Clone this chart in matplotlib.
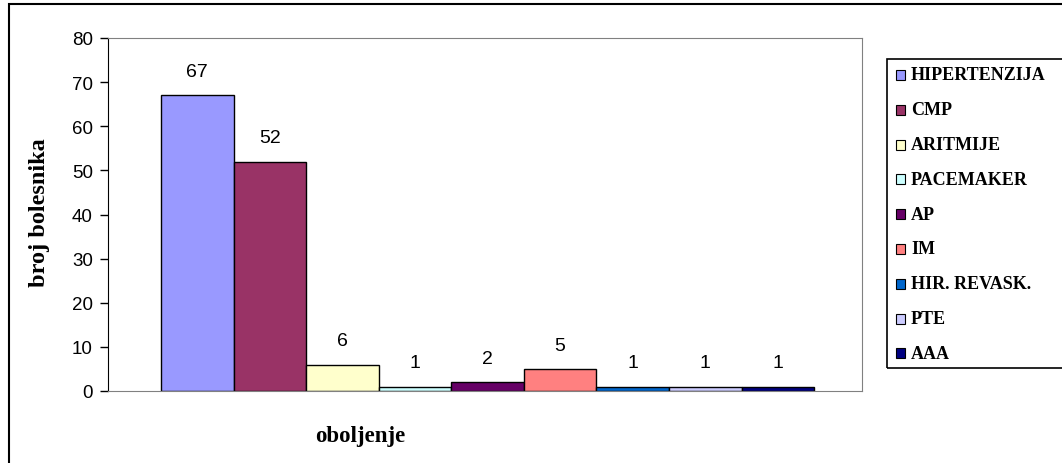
import matplotlib.pyplot as plt
from matplotlib.patches import Rectangle

# categories and patient counts
categories = ['HIPERTENZIJA', 'CMP', 'ARITMIJE', 'PACEMAKER', 'AP', 'IM',
              'HIR. REVASK.', 'PTE', 'AAA']
counts = [67, 52, 6, 1, 2, 5, 1, 1, 1]
colors = ['#9999FF', '#993366', '#FFFFCC', '#CCFFFF', '#660066', '#FF8080',
          '#0066CC', '#CCCCFF', '#000080']
yticks = [0, 10, 20, 30, 40, 50, 60, 70, 80]

W, H = 1062, 464
fig = plt.figure(figsize=(W / 100, H / 100), dpi=100)


def px(x, y):
    # pixel position (top-left origin) -> figure fraction
    return x / W, 1 - y / H


ax = fig.add_axes([108 / W, 1 - 392 / H, (862 - 108) / W, (392 - 39) / H])

pos = list(range(len(counts)))
ax.bar(pos, counts, width=1.0, color=colors, edgecolor='black', linewidth=1)
for x, v in zip(pos, counts):
    ax.annotate(str(v), (x, v), xytext=(0, 17), textcoords='offset points',
                ha='center', va='center', fontsize=14,
                family='Liberation Sans')

ax.set_xlim(-1.23, 9.16)
ax.set_ylim(0, 80)
ax.set_yticks(yticks)
ax.set_xticks([])
ax.tick_params(axis='y', direction='out', length=6, width=1, pad=5,
               labelsize=13.5)
for lbl in ax.get_yticklabels():
    lbl.set_family('Liberation Sans')
for side in ['top', 'right', 'bottom']:
    ax.spines[side].set_color('#808080')
ax.spines['left'].set_color('black')

# axis titles
tx, ty = px(40, 213)
fig.text(tx, ty, 'broj bolesnika', rotation=90, ha='center', va='center',
         fontsize=17.5, fontweight='bold', family='Liberation Serif')
tx, ty = px(360, 437)
fig.text(tx, ty, 'oboljenje', ha='center', va='center',
         fontsize=16.5, fontweight='bold', family='Liberation Serif')

# outer chart border
x0, y0 = px(9, 5)
fig.patches.append(Rectangle((x0, -0.1), 1.2, y0 + 0.1,
                             transform=fig.transFigure, fill=False,
                             edgecolor='black', linewidth=1.5))

# legend box
lx, ly = px(887, 369)
fig.patches.append(Rectangle((lx, ly), 1.2, (369 - 60) / H,
                             transform=fig.transFigure, fill=False,
                             edgecolor='black', linewidth=1.2))
for i, (name, c) in enumerate(zip(categories, colors)):
    yc = 76 + i * 34.8
    sx, sy = px(896, yc + 5)
    fig.patches.append(Rectangle((sx, sy), 9 / W, 10 / H,
                                 transform=fig.transFigure, facecolor=c,
                                 edgecolor='black', linewidth=0.8))
    tx, ty = px(911, yc)
    fig.text(tx, ty, name, ha='left', va='center', fontsize=13,
             fontweight='bold', family='Liberation Serif')

fig.savefig('out.png', dpi=100)
